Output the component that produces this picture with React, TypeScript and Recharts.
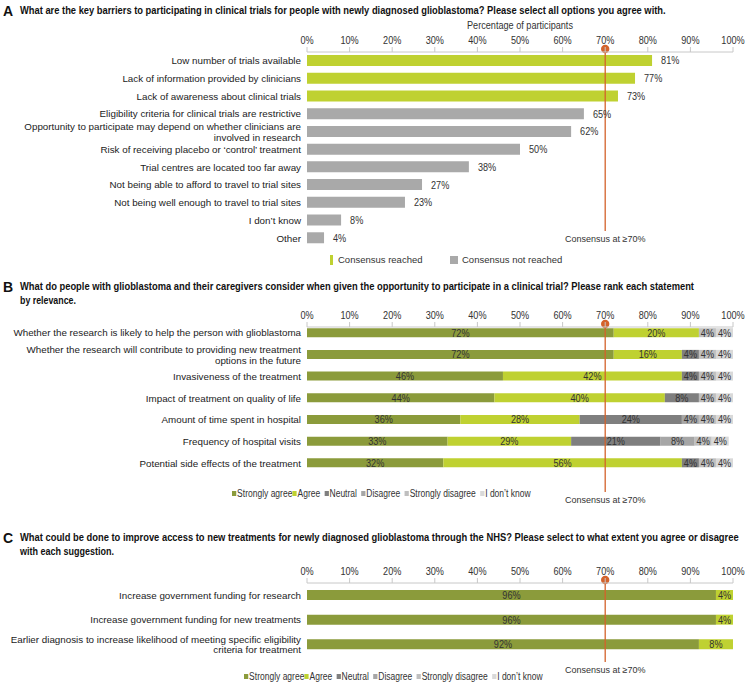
import React, { useLayoutEffect, useRef, useState } from "react";
import { BarChart, Bar, XAxis, YAxis, Cell, LabelList, ReferenceLine } from "recharts";

// ---------- Data ----------
const TICKS = [0, 10, 20, 30, 40, 50, 60, 70, 80, 90, 100];
const CONSENSUS = 70;

const CAT_A = [
  "Low number of trials available",
  "Lack of information provided by clinicians",
  "Lack of awareness about clinical trials",
  "Eligibility criteria for clinical trials are restrictive",
  "Opportunity to participate may depend on whether clinicians are\ninvolved in research",
  "Risk of receiving placebo or \u2018control\u2019 treatment",
  "Trial centres are located too far away",
  "Not being able to afford to travel to trial sites",
  "Not being well enough to travel to trial sites",
  "I don\u2019t know",
  "Other",
];
const VAL_A = [81, 77, 73, 65, 62, 50, 38, 27, 23, 8, 4];

const CAT_B = [
  "Whether the research is likely to help the person with glioblastoma",
  "Whether the research will contribute to providing new treatment\noptions in the future",
  "Invasiveness of the treatment",
  "Impact of treatment on quality of life",
  "Amount of time spent in hospital",
  "Frequency of hospital visits",
  "Potential side effects of the treatment",
];
const SA_B = [72, 72, 46, 44, 36, 33, 32];
const AG_B = [20, 16, 42, 40, 28, 29, 56];
const NE_B = [0, 4, 4, 8, 24, 21, 4];
const DI_B = [0, 0, 0, 0, 4, 8, 0];
const SD_B = [4, 4, 4, 4, 4, 4, 4];
const DK_B = [4, 4, 4, 4, 4, 4, 4];

const CAT_C = [
  "Increase government funding for research",
  "Increase government funding for new treatments",
  "Earlier diagnosis to increase likelihood of meeting specific eligibility\ncriteria for treatment",
];
const SA_C = [96, 96, 92];
const AG_C = [4, 4, 8];

const RESPONSE_KEYS = ["sa", "ag", "ne", "di", "sd", "dk"];
const RESPONSE_NAMES = ["Strongly agree", "Agree", "Neutral", "Disagree", "Strongly disagree", "I don\u2019t know"];

const TITLE_A = ["What are the key barriers to participating in clinical trials for people with newly diagnosed glioblastoma? Please select all options you agree with."];
const TITLE_B = ["What do people with glioblastoma and their caregivers consider when given the opportunity to participate in a clinical trial? Please rank each statement", "by relevance."];
const TITLE_C = ["What could be done to improve access to new treatments for newly diagnosed glioblastoma through the NHS? Please select to what extent you agree or disagree", "with each suggestion."];

// ---------- Styles ----------
const SANS = "'Liberation Sans', Arial, Helvetica, sans-serif";
const NARROW_SCALE = 0.83;
const COLORS: Record<string, string> = {
  sa: "#8b9b3b",
  ag: "#bfd131",
  ne: "#7f7f7f",
  di: "#a6a6a6",
  sd: "#bfbfbf",
  dk: "#d9d9d9",
};
const LIME = "#bfd131";
const GREY = "#a9a9a9";
const RED = "#d4622b";

const dataA = CAT_A.map((label, i) => ({ label, value: VAL_A[i] }));
const dataB = CAT_B.map((label, i) => ({
  label,
  sa: SA_B[i], ag: AG_B[i], ne: NE_B[i], di: DI_B[i], sd: SD_B[i], dk: DK_B[i],
}));
const dataC = CAT_C.map((label, i) => ({
  label, sa: SA_C[i], ag: AG_C[i], ne: 0, di: 0, sd: 0, dk: 0,
}));

const NarrowText = ({ x, y, children, anchor = "middle", size = 11, dy = "0" }: any) => (
  <g transform={`translate(${x},${y})`}>
    <text transform={`scale(${NARROW_SCALE},1)`} x={0} y={0} dy={dy} textAnchor={anchor} fontFamily={SANS} fontSize={size} fill="#333">
      {children}
    </text>
  </g>
);

const XTick = (props: any) => {
  const { x, y, payload } = props;
  return <NarrowText x={x} y={y} size={11}>{`${payload.value}%`}</NarrowText>;
};

const CategoryTick = (props: any) => {
  const { x, y, payload } = props;
  const lines = String(payload.value).split("\n");
  const lh = 10.8;
  const start = y - ((lines.length - 1) * lh) / 2;
  return (
    <text x={x} y={start} textAnchor="end" fontFamily={SANS} fontSize={9.8} fill="#222">
      {lines.map((l, i) => (
        <tspan key={i} x={x} y={start + i * lh} dy="0.35em">{l}</tspan>
      ))}
    </text>
  );
};

const RightLabel = (props: any) => {
  const { x, y, width, height, value } = props;
  if (!value) return null;
  return <NarrowText x={x + width + 9} y={y + height / 2} anchor="start" dy="0.36em">{`${value}%`}</NarrowText>;
};

const CenterLabel = (props: any) => {
  const { x, y, width, height, value } = props;
  if (!value) return null;
  return <NarrowText x={x + width / 2} y={y + height / 2} anchor="middle" dy="0.36em">{`${value}%`}</NarrowText>;
};

const makeConsensusShape = (extend: number) => (props: any) => {
  const { x1, y1, y2 } = props;
  const top = Math.min(y1, y2);
  const bottom = Math.max(y1, y2);
  const end = bottom + extend;
  return (
    <g>
      <line x1={x1} x2={x1} y1={top - 3} y2={end} stroke={RED} strokeWidth={1.3} />
      <circle cx={x1} cy={top - 3} r={4.2} fill={RED} />
      <text x={x1} y={end + 8} dy="0.35em" textAnchor="middle" fontFamily={SANS} fontSize={9} fill="#333">
        Consensus at {"\u2265"}70%
      </text>
    </g>
  );
};

const commonX = (h: number) => (
  <XAxis
    type="number"
    orientation="top"
    domain={[0, 100]}
    ticks={TICKS}
    height={h}
    tickSize={5}
    tickMargin={3}
    axisLine={{ stroke: "#c8c8c8" }}
    tickLine={{ stroke: "#c8c8c8" }}
    tick={<XTick />}
    interval={0}
  />
);

const commonY = (padTop = 0) => (
  <YAxis
    type="category"
    dataKey="label"
    width={307}
    axisLine={false}
    tickLine={false}
    tickSize={6}
    tickMargin={0}
    interval={0}
    padding={{ top: padTop, bottom: 0 }}
    tick={<CategoryTick />}
  />
);

// A title line squeezed horizontally to a target width (the original uses a condensed bold face)
const TitleLine = ({ text, y, width }: { text: string; y: number; width: number }) => {
  const ref = useRef<SVGTextElement>(null);
  const [scale, setScale] = useState(0.8);
  useLayoutEffect(() => {
    if (ref.current) {
      const natural = ref.current.getComputedTextLength();
      if (natural > 0) setScale(width / natural);
    }
  }, [text, width]);
  return (
    <g transform={`translate(20,${y}) scale(${scale},1)`}>
      <text ref={ref} x={0} y={0} fontFamily={SANS} fontWeight="bold" fontSize={10.5} fill="#111">{text}</text>
    </g>
  );
};

const Title = ({ letter, top, lines, lengths }: { letter: string; top: number; lines: string[]; lengths: number[] }) => (
  <svg width={745} height={32} style={{ position: "absolute", left: 0, top }}>
    <text x={3} y={13} fontFamily={SANS} fontWeight="bold" fontSize={14} fill="#111">{letter}</text>
    {lines.map((l, i) => (
      <TitleLine key={i} text={l} y={11 + i * 13.5} width={lengths[i]} />
    ))}
  </svg>
);

const LikertLegend = ({ top, left }: { top: number; left: number }) => (
  <div style={{ position: "absolute", top, left, display: "flex", alignItems: "center", fontFamily: SANS, fontSize: 10, color: "#333", whiteSpace: "nowrap", transform: "scaleX(0.85)", transformOrigin: "left center" }}>
    {RESPONSE_KEYS.map((k, i) => (
      <span key={k} style={{ display: "inline-flex", alignItems: "center", marginRight: i === 0 ? 0 : 5 }}>
        <span style={{ display: "inline-block", width: 5, height: 5, background: COLORS[k], marginRight: 1 }} />
        {RESPONSE_NAMES[i]}
      </span>
    ))}
  </div>
);

export default function App() {
  return (
    <div style={{ position: "absolute", left: 0, top: 0, width: 745, height: 682, background: "#fff", overflow: "hidden" }}>
      <Title letter="A" top={3} lines={TITLE_A} lengths={[645]} />
      <svg width={745} height={14} style={{ position: "absolute", left: 0, top: 18 }}>
        <NarrowText x={520} y={7} dy="0.35em" size={11}>Percentage of participants</NarrowText>
      </svg>

      <div style={{ position: "absolute", left: 0, top: 0 }}>
        <BarChart
          width={745}
          height={250}
          data={dataA}
          layout="vertical"
          margin={{ top: 30, right: 12, bottom: 3, left: 0 }}
          barCategoryGap={0}
        >
          {commonX(22)}
          {commonY()}
          <Bar dataKey="value" barSize={11} isAnimationActive={false}>
            {dataA.map((d, i) => (
              <Cell key={i} fill={d.value >= CONSENSUS ? LIME : GREY} />
            ))}
            <LabelList dataKey="value" content={<RightLabel />} />
          </Bar>
          <ReferenceLine x={CONSENSUS} ifOverflow="visible" shape={makeConsensusShape(-16)} />
        </BarChart>
      </div>

      <div style={{ position: "absolute", left: 0, top: 253, width: 745, height: 14, fontFamily: SANS, fontSize: 9.5, color: "#333", whiteSpace: "nowrap" }}>
        <span style={{ position: "absolute", left: 330, top: 2, width: 3, height: 10, background: LIME }} />
        <span style={{ position: "absolute", left: 338, top: 1 }}>Consensus reached</span>
        <span style={{ position: "absolute", left: 450, top: 3, width: 8, height: 8, background: GREY }} />
        <span style={{ position: "absolute", left: 462, top: 1 }}>Consensus not reached</span>
      </div>

      <Title letter="B" top={279} lines={TITLE_B} lengths={[674, 56]} />

      <div style={{ position: "absolute", left: 0, top: 300 }}>
        <BarChart
          width={745}
          height={210}
          data={dataB}
          layout="vertical"
          margin={{ top: 7, right: 12, bottom: 36, left: 0 }}
          barCategoryGap={0}
        >
          {commonX(20)}
          {commonY(-4.8)}
          {RESPONSE_KEYS.map((k) => (
            <Bar key={k} dataKey={k} stackId="s" barSize={9} fill={COLORS[k]} isAnimationActive={false}>
              <LabelList dataKey={k} content={<CenterLabel />} />
            </Bar>
          ))}
          <ReferenceLine x={CONSENSUS} ifOverflow="visible" shape={makeConsensusShape(18)} />
        </BarChart>
      </div>
      <LikertLegend top={488} left={232} />

      <Title letter="C" top={530} lines={TITLE_C} lengths={[719, 94]} />

      <div style={{ position: "absolute", left: 0, top: 555 }}>
        <BarChart
          width={745}
          height={127}
          data={dataC}
          layout="vertical"
          margin={{ top: 8, right: 12, bottom: 25, left: 0 }}
          barCategoryGap={0}
        >
          {commonX(20)}
          {commonY()}
          {RESPONSE_KEYS.map((k) => (
            <Bar key={k} dataKey={k} stackId="s" barSize={10} fill={COLORS[k]} isAnimationActive={false}>
              <LabelList dataKey={k} content={<CenterLabel />} />
            </Bar>
          ))}
          <ReferenceLine x={CONSENSUS} ifOverflow="visible" shape={makeConsensusShape(5)} />
        </BarChart>
      </div>
      <LikertLegend top={671} left={244} />
    </div>
  );
}
